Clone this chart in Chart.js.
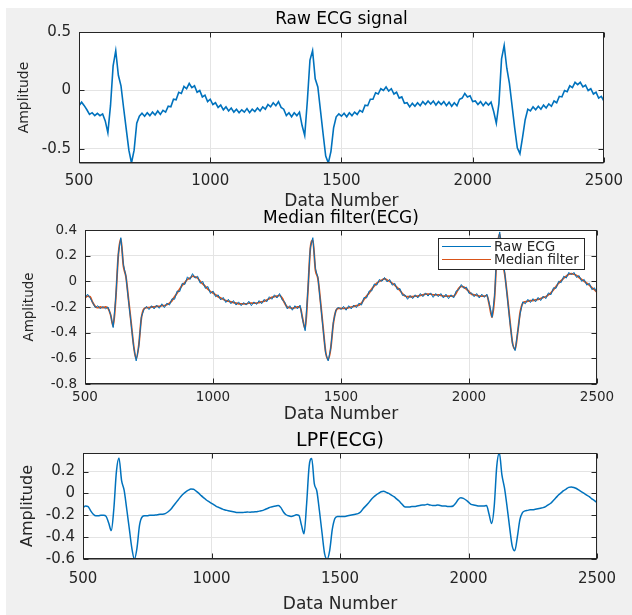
<!DOCTYPE html>
<html><head><meta charset="utf-8">
<script src="https://cdn.jsdelivr.net/npm/chart.js@4/dist/chart.umd.min.js"></script>
<style>
html,body{margin:0;padding:0;background:#ffffff;}
#fig{position:absolute;left:6px;top:8px;width:626px;height:607px;background:#f0f0f0;}
canvas{position:absolute;left:6px;}
#c1{top:8px} #c2{top:208px} #c3{top:423px}
</style></head><body>
<div id="fig"></div>
<canvas id="c1" width="626" height="210"></canvas>
<canvas id="c2" width="626" height="222"></canvas>
<canvas id="c3" width="626" height="192"></canvas>
<script>
// ---- sample positions (x axis categories): every 10th sample from 500 to 2500
const sampleNumbers = Array.from({length: 201}, (_, i) => 500 + 10 * i);

// ---- raw ECG amplitude
const rawEcg = [
 -0.13,-0.1,-0.13,-0.165,-0.205,-0.19,-0.215,-0.195,-0.215,-0.2,
 -0.26,-0.36,-0.13,0.21,0.34,0.13,0.04,-0.15,-0.33,-0.51,
 -0.62,-0.51,-0.28,-0.22,-0.195,-0.22,-0.19,-0.215,-0.185,-0.21,
 -0.175,-0.205,-0.17,-0.185,-0.135,-0.14,-0.075,-0.08,-0.015,-0.025,
 0.035,0.015,0.06,0.025,0.04,-0.015,0.0,-0.055,-0.04,-0.095,
 -0.075,-0.12,-0.105,-0.145,-0.125,-0.165,-0.14,-0.175,-0.15,-0.185,
 -0.16,-0.19,-0.165,-0.185,-0.155,-0.19,-0.16,-0.18,-0.15,-0.175,
 -0.14,-0.16,-0.12,-0.14,-0.105,-0.13,-0.095,-0.145,-0.16,-0.215,
 -0.19,-0.225,-0.19,-0.215,-0.185,-0.3,-0.385,-0.09,0.26,0.34,
 0.1,0.03,-0.17,-0.37,-0.56,-0.62,-0.52,-0.32,-0.225,-0.2,
 -0.22,-0.195,-0.225,-0.19,-0.215,-0.185,-0.205,-0.17,-0.185,-0.125,
 -0.13,-0.075,-0.075,-0.02,-0.03,0.015,0.0,0.03,-0.005,0.015,
 -0.03,-0.015,-0.065,-0.055,-0.11,-0.105,-0.14,-0.11,-0.135,-0.105,
 -0.13,-0.095,-0.12,-0.09,-0.115,-0.09,-0.125,-0.095,-0.12,-0.095,
 -0.13,-0.1,-0.135,-0.105,-0.13,-0.075,-0.065,-0.025,-0.055,-0.045,
 -0.095,-0.09,-0.12,-0.095,-0.13,-0.1,-0.125,-0.1,-0.18,-0.28,
 -0.11,0.27,0.385,0.19,0.06,-0.13,-0.32,-0.49,-0.54,-0.4,
 -0.25,-0.16,-0.175,-0.14,-0.165,-0.135,-0.16,-0.125,-0.15,-0.115,
 -0.135,-0.09,-0.105,-0.05,-0.055,0.0,-0.01,0.04,0.025,0.07,
 0.05,0.07,0.03,0.045,0.0,0.015,-0.03,-0.015,-0.065,-0.05,
 -0.09
];

// ---- median-filtered ECG
const medianEcg = [
 -0.13,-0.115,-0.12,-0.165,-0.195,-0.205,-0.2,-0.205,-0.2,-0.21,
 -0.26,-0.35,-0.14,0.2,0.33,0.12,0.035,-0.14,-0.32,-0.5,
 -0.605,-0.5,-0.29,-0.215,-0.205,-0.205,-0.2,-0.2,-0.195,-0.195,
 -0.19,-0.19,-0.18,-0.17,-0.15,-0.12,-0.09,-0.06,-0.03,-0.01,
 0.015,0.025,0.04,0.035,0.025,0.0,-0.02,-0.04,-0.06,-0.08,
 -0.09,-0.105,-0.12,-0.13,-0.14,-0.15,-0.155,-0.16,-0.165,-0.17,
 -0.175,-0.175,-0.175,-0.175,-0.17,-0.17,-0.17,-0.17,-0.165,-0.16,
 -0.155,-0.145,-0.135,-0.125,-0.12,-0.115,-0.11,-0.13,-0.17,-0.2,
 -0.205,-0.21,-0.205,-0.2,-0.2,-0.29,-0.37,-0.1,0.25,0.32,
 0.09,0.02,-0.16,-0.36,-0.55,-0.61,-0.52,-0.33,-0.23,-0.21,
 -0.21,-0.21,-0.21,-0.205,-0.2,-0.195,-0.19,-0.185,-0.17,-0.14,
 -0.115,-0.09,-0.06,-0.035,-0.015,0.0,0.01,0.02,0.01,0.0,
 -0.015,-0.03,-0.05,-0.07,-0.095,-0.115,-0.12,-0.12,-0.12,-0.115,
 -0.115,-0.11,-0.105,-0.1,-0.1,-0.1,-0.105,-0.105,-0.105,-0.11,
 -0.115,-0.115,-0.115,-0.115,-0.115,-0.09,-0.055,-0.04,-0.045,-0.06,
 -0.08,-0.1,-0.105,-0.11,-0.115,-0.115,-0.115,-0.11,-0.19,-0.28,
 -0.12,0.25,0.37,0.17,0.05,-0.12,-0.31,-0.48,-0.53,-0.4,
 -0.24,-0.17,-0.16,-0.155,-0.15,-0.15,-0.145,-0.14,-0.135,-0.125,
 -0.12,-0.105,-0.09,-0.065,-0.04,-0.015,0.005,0.025,0.04,0.055,
 0.06,0.055,0.045,0.03,0.015,0.0,-0.015,-0.03,-0.05,-0.065,
 -0.085
];

// ---- low-pass filtered ECG
const lpfEcg = [
 -0.13,-0.115,-0.12,-0.16,-0.19,-0.205,-0.205,-0.2,-0.2,-0.21,
 -0.27,-0.34,-0.14,0.2,0.325,0.12,0.03,-0.14,-0.32,-0.5,
 -0.6,-0.5,-0.29,-0.215,-0.205,-0.205,-0.2,-0.2,-0.198,-0.195,
 -0.19,-0.19,-0.185,-0.17,-0.15,-0.12,-0.09,-0.06,-0.03,-0.005,
 0.015,0.03,0.04,0.038,0.022,0.003,-0.02,-0.04,-0.06,-0.075,
 -0.09,-0.105,-0.12,-0.13,-0.14,-0.15,-0.155,-0.16,-0.165,-0.17,
 -0.175,-0.175,-0.175,-0.172,-0.17,-0.172,-0.17,-0.168,-0.165,-0.16,
 -0.155,-0.145,-0.135,-0.125,-0.12,-0.115,-0.11,-0.13,-0.17,-0.195,
 -0.205,-0.21,-0.205,-0.195,-0.2,-0.29,-0.37,-0.1,0.25,0.32,
 0.09,0.02,-0.16,-0.36,-0.55,-0.6,-0.52,-0.33,-0.23,-0.21,
 -0.21,-0.21,-0.21,-0.205,-0.2,-0.195,-0.19,-0.185,-0.17,-0.14,
 -0.115,-0.09,-0.06,-0.035,-0.015,0.0,0.015,0.02,0.01,0.0,
 -0.015,-0.03,-0.05,-0.07,-0.095,-0.12,-0.125,-0.125,-0.12,-0.12,
 -0.115,-0.11,-0.105,-0.105,-0.1,-0.105,-0.11,-0.11,-0.105,-0.11,
 -0.115,-0.115,-0.12,-0.12,-0.115,-0.09,-0.055,-0.04,-0.045,-0.06,
 -0.08,-0.1,-0.105,-0.11,-0.115,-0.115,-0.115,-0.11,-0.19,-0.275,
 -0.12,0.25,0.37,0.17,0.05,-0.12,-0.31,-0.48,-0.525,-0.4,
 -0.24,-0.175,-0.16,-0.155,-0.15,-0.15,-0.145,-0.14,-0.135,-0.13,
 -0.12,-0.105,-0.09,-0.065,-0.04,-0.015,0.005,0.025,0.04,0.055,
 0.06,0.055,0.045,0.03,0.015,0.0,-0.015,-0.03,-0.05,-0.065,
 -0.085
];

// ---- tick labels
const xTicks = [500, 1000, 1500, 2000, 2500];
const yTicksRaw = [-0.5, 0, 0.5];
const yTicksMedian = [-0.8, -0.6, -0.4, -0.2, 0, 0.2, 0.4];
const yTicksLpf = [-0.6, -0.4, -0.2, 0, 0.2];

// ---- texts
const titles = ['Raw ECG signal', 'Median filter(ECG)', 'LPF(ECG)'];
const xLabel = 'Data Number';
const yLabel = 'Amplitude';
const seriesNames = ['Raw ECG', 'Median filter'];

const FONT = '"DejaVu Sans", "Liberation Sans", sans-serif';
const BLUE = '#0072BD', ORANGE = '#D95319';
const AXIS = '#262626';

function pts(arr) { return sampleNumbers.map((x, i) => ({x: x, y: arr[i]})); }

const axesBox = {
  id: 'axesBox',
  beforeDraw(chart) {
    const {ctx, chartArea: a} = chart;
    ctx.save();
    ctx.fillStyle = '#ffffff';
    ctx.fillRect(a.left, a.top, a.right - a.left, a.bottom - a.top);
    ctx.restore();
  },
  afterDatasetsDraw(chart) {
    const {ctx, chartArea: a, scales} = chart;
    const L = Math.round(a.left) + 0.5, R = Math.round(a.right) - 0.5;
    const T = Math.round(a.top) + 0.5, B = Math.round(a.bottom) - 0.5;
    ctx.save();
    ctx.strokeStyle = AXIS; ctx.lineWidth = 1;
    ctx.beginPath();
    scales.x.ticks.forEach(t => {
      const px = Math.round(scales.x.getPixelForValue(t.value)) + 0.5;
      ctx.moveTo(px, B); ctx.lineTo(px, B - 5);
      ctx.moveTo(px, T); ctx.lineTo(px, T + 5);
    });
    scales.y.ticks.forEach(t => {
      const py = Math.round(scales.y.getPixelForValue(t.value)) + 0.5;
      ctx.moveTo(L, py); ctx.lineTo(L + 5, py);
      ctx.moveTo(R, py); ctx.lineTo(R - 5, py);
    });
    ctx.stroke();
    ctx.strokeRect(L, T, R - L, B - T);
    ctx.beginPath(); ctx.moveTo(L, B + 0.5); ctx.lineTo(R, B + 0.5); ctx.stroke();
    ctx.restore();
  }
};

const boxLegend = {
  id: 'boxLegend',
  afterDraw(chart, args, opts) {
    if (!opts || !opts.show) return;
    const {ctx, chartArea: a} = chart;
    const w = 146, h = 31;
    const x0 = Math.round(a.right) - 13 - w, y0 = Math.round(a.top) + 8;
    ctx.save();
    ctx.fillStyle = '#ffffff';
    ctx.fillRect(x0, y0, w, h);
    ctx.strokeStyle = AXIS; ctx.lineWidth = 1;
    ctx.strokeRect(x0 + 0.5, y0 + 0.5, w, h);
    ctx.font = '13.5px ' + FONT;
    ctx.textBaseline = 'middle';
    chart.data.datasets.forEach((ds, i) => {
      const y = y0 + 8.5 + i * 13;
      ctx.strokeStyle = ds.borderColor; ctx.lineWidth = 1.2;
      ctx.beginPath(); ctx.moveTo(x0 + 4, y); ctx.lineTo(x0 + 53, y); ctx.stroke();
      ctx.fillStyle = AXIS;
      ctx.fillText(ds.label, x0 + 56, y + 0.5);
    });
    ctx.restore();
  }
};

function makeChart(id, c) {
  return new Chart(document.getElementById(id), {
    type: 'line',
    data: { datasets: c.datasets },
    plugins: [axesBox, boxLegend],
    options: {
      responsive: false, animation: false, devicePixelRatio: 1,
      layout: { padding: { left: 0, right: c.padRight, top: 0, bottom: 0 } },
      elements: { point: { radius: 0 }, line: { tension: 0 } },
      plugins: {
        legend: { display: false },
        tooltip: { enabled: false },
        title: { display: false },
        boxLegend: { show: !!c.legend }
      },
      scales: {
        xTop: {
          type: 'linear', position: 'top', min: 500, max: 2500,
          afterFit: s => { s.height = c.topHeight; },
          grid: { display: false }, border: { display: false },
          ticks: { display: false },
          title: { display: true, text: c.title, color: '#000000',
                   font: { family: FONT, size: c.titleSize },
                   padding: { top: c.titlePadTop, bottom: 0 } }
        },
        x: {
          type: 'linear', position: 'bottom', min: 500, max: 2500,
          afterFit: s => { s.height = c.xHeight; },
          afterBuildTicks: s => { s.ticks = xTicks.map(v => ({value: v})); },
          grid: { color: '#e4e4e4', drawTicks: false },
          border: { display: false },
          ticks: { color: AXIS, padding: c.xTickPad, maxRotation: 0, autoSkip: false,
                   font: { family: FONT, size: c.tickSize }, callback: v => String(v) },
          title: { display: true, text: xLabel, color: AXIS,
                   font: { family: FONT, size: c.xTitleSize },
                   padding: { top: 0, bottom: c.xTitlePad } }
        },
        y: {
          min: c.yMin, max: c.yMax,
          afterFit: s => { s.width = c.yWidth; },
          afterBuildTicks: s => { s.ticks = c.yTicks.map(v => ({value: v})); },
          grid: { color: '#e4e4e4', drawTicks: false },
          border: { display: false },
          ticks: { color: AXIS, padding: 8, autoSkip: false,
                   font: { family: FONT, size: c.tickSize }, callback: v => String(v) },
          title: { display: true, text: yLabel, color: AXIS,
                   font: { family: FONT, size: c.yTitleSize },
                   padding: { top: c.yTitlePad, bottom: 0 } }
        }
      }
    }
  });
}

makeChart('c1', {
  title: titles[0], titleSize: 17, titlePadTop: 1.8, topHeight: 24,
  padRight: 25, yWidth: 73, xHeight: 55,
  tickSize: 15, xTickPad: 9, xTitleSize: 17, xTitlePad: 6,
  yTitleSize: 14, yTitlePad: 9.6,
  yMin: -0.62, yMax: 0.5, yTicks: yTicksRaw,
  datasets: [
    { label: seriesNames[0], data: pts(rawEcg), borderColor: BLUE, borderWidth: 1.6, clip: 0 }
  ]
});

makeChart('c2', {
  title: titles[1], titleSize: 17, titlePadTop: 0.8, topHeight: 22,
  padRight: 35, yWidth: 79, xHeight: 46,
  tickSize: 13.5, xTickPad: 5, xTitleSize: 17, xTitlePad: 5,
  yTitleSize: 13.5, yTitlePad: 15.5,
  yMin: -0.8, yMax: 0.4, yTicks: yTicksMedian, legend: true,
  datasets: [
    { label: seriesNames[0], data: pts(rawEcg), borderColor: BLUE, borderWidth: 1.0, clip: 0 },
    { label: seriesNames[1], data: pts(medianEcg), borderColor: ORANGE, borderWidth: 1.8, clip: 0,
      cubicInterpolationMode: 'monotone' }
  ]
});

makeChart('c3', {
  title: titles[2], titleSize: 19, titlePadTop: 6.3, topHeight: 30,
  padRight: 35, yWidth: 77, xHeight: 56,
  tickSize: 15, xTickPad: 11, xTitleSize: 17, xTitlePad: 0,
  yTitleSize: 16, yTitlePad: 12.4,
  yMin: -0.6, yMax: 0.37, yTicks: yTicksLpf,
  datasets: [
    { label: 'LPF', data: pts(lpfEcg), borderColor: BLUE, borderWidth: 1.5, clip: 0,
      cubicInterpolationMode: 'monotone' }
  ]
});
</script>
</body></html>
